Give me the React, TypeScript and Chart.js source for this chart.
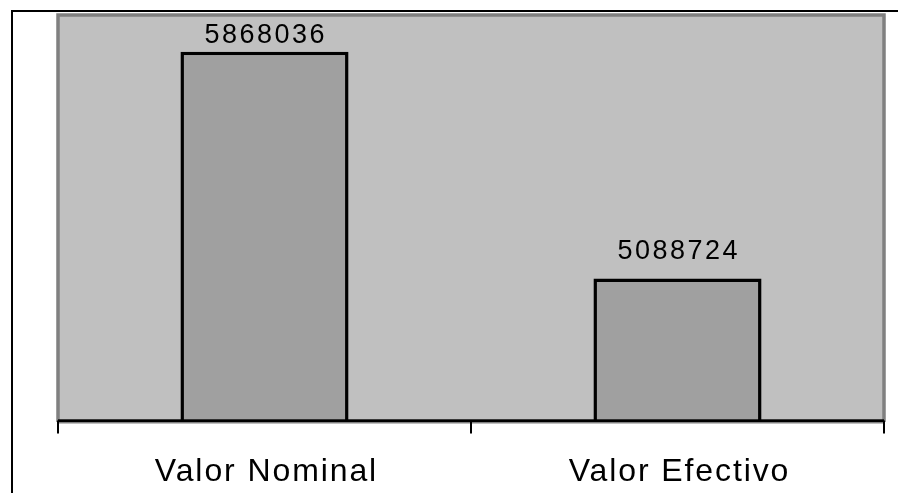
import React, { useEffect, useRef } from "react";
import { Chart, registerables } from "chart.js";

Chart.register(...registerables);

const categories = ["Valor Nominal", "Valor Efectivo"];
const values = [5868036, 5088724];
const axisMin = 4600000;
const axisMax = 6000000;

export default function App() {
  const ref = useRef<HTMLCanvasElement>(null);

  useEffect(() => {
    const canvas = ref.current!;
    const excelPlugin = {
      id: "excelLook",
      beforeDraw(chart: any) {
        const { ctx, chartArea: a } = chart;
        ctx.save();
        ctx.fillStyle = "#ffffff";
        ctx.fillRect(0, 0, chart.width, chart.height);
        // outer frame
        ctx.fillStyle = "#000000";
        ctx.fillRect(11, 10, chart.width, 2);
        ctx.fillRect(11, 10, 2, chart.height);
        // plot background
        ctx.fillStyle = "#C0C0C0";
        ctx.fillRect(a.left, a.top + 1.5, a.right - a.left, a.bottom - a.top - 1.5);
        // plot border
        ctx.strokeStyle = "#808080";
        ctx.lineWidth = 3.5;
        ctx.beginPath();
        ctx.moveTo(a.left, a.bottom + 1.5);
        ctx.lineTo(a.left, a.top + 1.5);
        ctx.lineTo(a.right, a.top + 1.5);
        ctx.lineTo(a.right, a.bottom + 1.5);
        ctx.stroke();
        ctx.lineWidth = 1.5;
        ctx.beginPath();
        ctx.moveTo(a.left, a.bottom + 2.2);
        ctx.lineTo(a.right, a.bottom + 2.2);
        ctx.stroke();
        ctx.restore();
      },
      afterDatasetsDraw(chart: any) {
        const { ctx, chartArea: a } = chart;
        const xs = chart.scales.x;
        ctx.save();
        // axis line
        ctx.fillStyle = "#000000";
        ctx.fillRect(a.left, a.bottom - 1.2, a.right - a.left, 2.7);
        // tick marks at category boundaries
        const p0 = xs.getPixelForValue(0);
        const p1 = xs.getPixelForValue(1);
        const half = (p1 - p0) / 2;
        const bounds = [p0 - half, p0 + half, p1 + half];
        bounds.forEach((bx) => {
          ctx.fillRect(Math.round(bx) - 1, a.bottom, 2, 13);
        });
        // category labels
        ctx.font = "32px 'Liberation Sans', Arial, sans-serif";
        ctx.textAlign = "center";
        ctx.textBaseline = "alphabetic";
        const catSp = 1.9;
        (ctx as any).letterSpacing = catSp + "px";
        categories.forEach((c, i) => {
          ctx.fillText(c, xs.getPixelForValue(i) + catSp / 2 + 1, 481);
        });
        // value labels
        const valSp = 2.5;
        (ctx as any).letterSpacing = valSp + "px";
        ctx.font = "27px 'Liberation Sans', Arial, sans-serif";
        const meta = chart.getDatasetMeta(0);
        meta.data.forEach((bar: any, i: number) => {
          const y = Math.max(bar.y - 19, a.top + 29);
          ctx.fillText(String(values[i]), bar.x + valSp / 2, y);
        });
        ctx.restore();
      },
    };

    const chart = new Chart(canvas, {
      type: "bar",
      data: {
        labels: categories,
        datasets: [
          {
            data: values,
            backgroundColor: "#A0A0A0",
            borderColor: "#000000",
            borderWidth: 3.5,
            borderSkipped: false,
            categoryPercentage: 1,
            barPercentage: 0.407,
          },
        ],
      },
      options: {
        responsive: false,
        animation: false,
        devicePixelRatio: 1,
        layout: { padding: { left: 58, right: 14, top: 13.5, bottom: 72.5 } },
        plugins: {
          legend: { display: false },
          tooltip: { enabled: false },
        },
        scales: {
          x: { display: false, offset: true },
          y: { display: false, min: axisMin, max: axisMax },
        },
      },
      plugins: [excelPlugin],
    });
    return () => chart.destroy();
  }, []);

  return (
    <div style={{ position: "absolute", left: 0, top: 0, width: 898, height: 493 }}>
      <canvas ref={ref} width={898} height={493} style={{ display: "block" }} />
    </div>
  );
}
